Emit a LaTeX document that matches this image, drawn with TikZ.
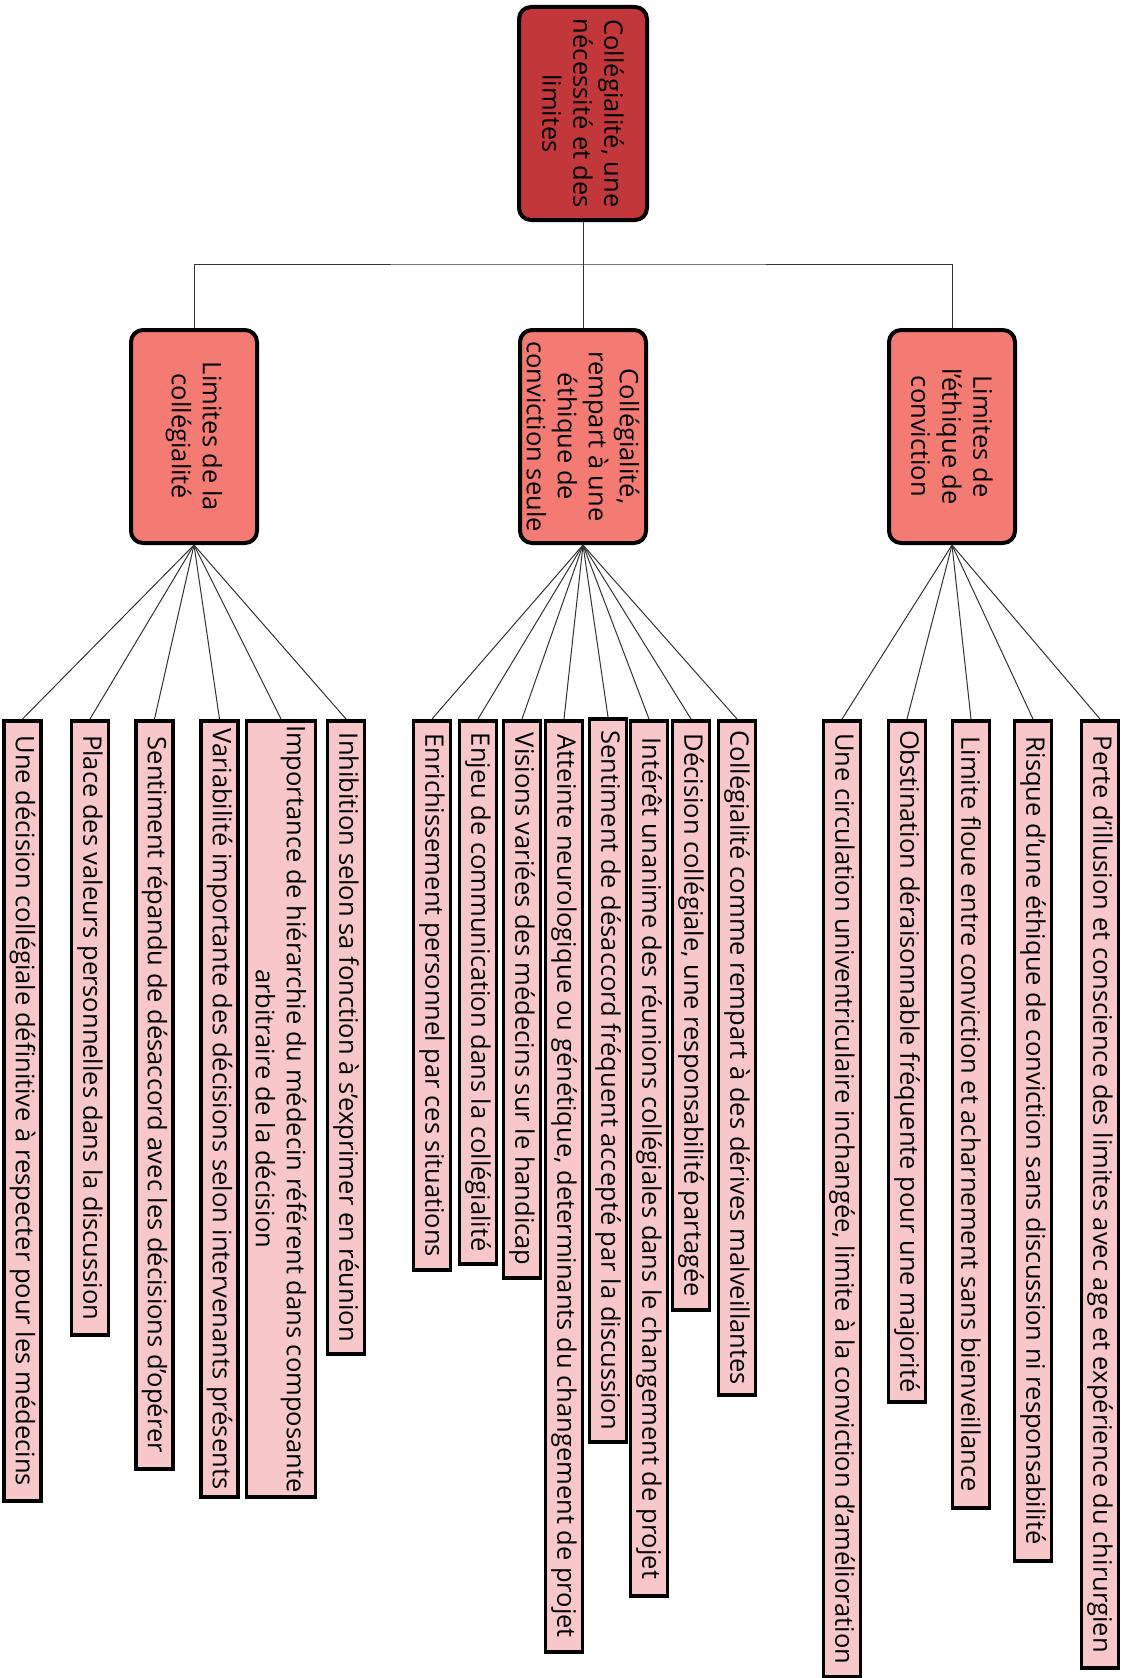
\documentclass[tikz,border=0pt]{standalone}
\usepackage{fontspec}
\setmainfont{Open Sans}
\definecolor{rootred}{HTML}{C1373A}
\definecolor{midred}{HTML}{F37B74}
\definecolor{leafpink}{HTML}{F7C7CA}
\tikzset{
	box/.style={draw,rotate=-90,inner sep=0pt,align=center,font=\fontsize{25.5}{31}\selectfont},
	topbox/.style={box,line width=4pt,rounded corners=12pt,minimum width=213pt},
	leaf/.style={box,line width=3.5pt,fill=leafpink,anchor=west,minimum height=37pt},
	link/.style={line width=1pt,black!80}
}
\begin{document}
\begin{tikzpicture}[x=1pt,y=-1pt]
\useasboundingbox[fill=white] (0,0) rectangle (1121,1678);
\node[topbox,fill=rootred,minimum height=128pt] (root) at (583,113.5) {Collégialité, une\\nécessité et des\\limites};
\node[topbox,fill=midred,minimum height=126pt] (lim) at (194,436.5) {Limites de la\\collégialité};
\node[topbox,fill=midred,minimum height=126pt] (rem) at (583,436.5) {Collégialité,\\rempart à une\\éthique de\\conviction seule};
\node[topbox,fill=midred,minimum height=126pt] (eth) at (952,436.5) {Limites de\\l'éthique de\\conviction};
\coordinate (bus) at (583,264);
\draw[link] (lim.west) |- (bus) -| (eth.west);
\draw[link] (root.east) -- (rem.west);

\node[leaf,minimum width=780pt] (lim1) at (22.5,719) {Une décision collégiale définitive à respecter pour les médecins};
\node[leaf,minimum width=614pt] (lim2) at (90,719) {Place des valeurs personnelles dans la discussion};
\node[leaf,minimum width=748pt] (lim3) at (154.5,719) {Sentiment répandu de désaccord avec les décisions d'opérer};
\node[leaf,minimum width=776pt] (lim4) at (219.5,719) {Variabilité importante des décisions selon intervenants présents};
\node[leaf,minimum width=776pt,minimum height=69pt] (lim5) at (281,719) {Importance de hiérarchie du médecin référent dans composante\\arbitraire de la décision};
\node[leaf,minimum width=633pt] (lim6) at (346,719) {Inhibition selon sa fonction à s'exprimer en réunion};

\node[leaf,minimum width=549pt] (rem1) at (432,719) {Enrichissement personnel par ces situations};
\node[leaf,minimum width=543pt] (rem2) at (478,719) {Enjeu de communication dans la collégialité};
\node[leaf,minimum width=557pt] (rem3) at (522,719) {Visions variées des médecins sur le handicap};
\node[leaf,minimum width=931pt] (rem4) at (564,719) {Atteinte neurologique ou génétique, determinants du changement de projet};
\node[leaf,minimum width=723pt] (rem5) at (608,717) {Sentiment de désaccord fréquent accepté par la discussion};
\node[leaf,minimum width=875pt] (rem6) at (649,719) {Intérêt unanime des réunions collégiales dans le changement de projet};
\node[leaf,minimum width=589pt] (rem7) at (691,719) {Décision collégiale, une responsabilité partagée};
\node[leaf,minimum width=674pt] (rem8) at (737,719) {Collégialité comme rempart à des dérives malveillantes};

\node[leaf,minimum width=956pt] (eth1) at (842,719) {Une circulation univentriculaire inchangée, limite à la conviction d'amélioration};
\node[leaf,minimum width=681pt] (eth2) at (907,719) {Obstination déraisonnable fréquente pour une majorité};
\node[leaf,minimum width=787pt] (eth3) at (971,719) {Limite floue entre conviction et acharnement sans bienveillance};
\node[leaf,minimum width=840pt] (eth4) at (1033,719) {Risque d'une éthique de conviction sans discussion ni responsabilité};
\node[leaf,minimum width=947pt] (eth5) at (1100,719) {Perte d'illusion et conscience des limites avec age et expérience du chirurgien};

\draw[link] (lim.east) -- (lim1.west);
\draw[link] (lim.east) -- (lim2.west);
\draw[link] (lim.east) -- (lim3.west);
\draw[link] (lim.east) -- (lim4.west);
\draw[link] (lim.east) -- (lim5.west);
\draw[link] (lim.east) -- (lim6.west);
\draw[link] (rem.east) -- (rem1.west);
\draw[link] (rem.east) -- (rem2.west);
\draw[link] (rem.east) -- (rem3.west);
\draw[link] (rem.east) -- (rem4.west);
\draw[link] (rem.east) -- (rem5.west);
\draw[link] (rem.east) -- (rem6.west);
\draw[link] (rem.east) -- (rem7.west);
\draw[link] (rem.east) -- (rem8.west);
\draw[link] (eth.east) -- (eth1.west);
\draw[link] (eth.east) -- (eth2.west);
\draw[link] (eth.east) -- (eth3.west);
\draw[link] (eth.east) -- (eth4.west);
\draw[link] (eth.east) -- (eth5.west);
\end{tikzpicture}
\end{document}
